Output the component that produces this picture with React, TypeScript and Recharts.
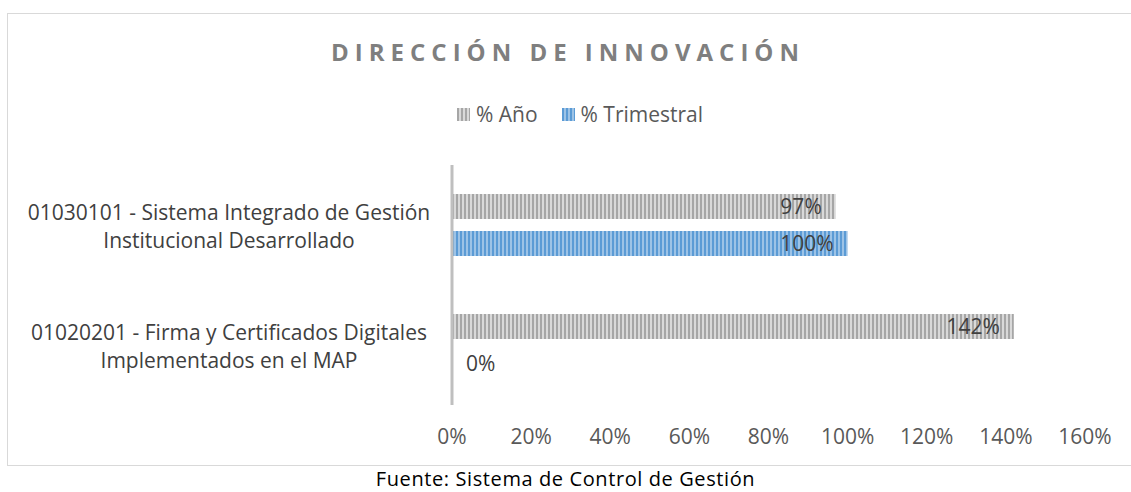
import React from 'react';
import { BarChart, Bar, XAxis, YAxis, LabelList } from 'recharts';

const categories = [
  '01030101 - Sistema Integrado de Gestión|Institucional Desarrollado',
  '01020201 - Firma y Certificados Digitales|Implementados en el MAP',
];
const anio = [97, 142];
const trimestral = [100, 0];
const xTicks = [0, 20, 40, 60, 80, 100, 120, 140, 160];

const data = categories.map((cat, i) => ({ cat, anio: anio[i], trimestral: trimestral[i] }));

const FONT = '"Open Sans", "Noto Sans", sans-serif';

const CategoryTick = (props: any) => {
  const { x, y, payload } = props;
  const lines = String(payload.value).split('|');
  return (
    <text x={x} y={y} textAnchor="middle" fill="#404040" fontSize={21} fontFamily={FONT}>
      {lines.map((l, i) => (
        <tspan key={i} x={x - 215} dy={i === 0 ? -5 : 28} textAnchor="middle">
          {l}
        </tspan>
      ))}
    </text>
  );
};

const ValueLabel = (props: any) => {
  const { x, y, width, height, value } = props;
  if (!value) return null;
  return (
    <text x={x + width - 14} y={y + height / 2 + 7.5} textAnchor="end" fill="#404040" fontSize={21} fontFamily={FONT}>
      {value}%
    </text>
  );
};

// bars with zero length still need their "0%" label next to the axis
const BarShape = (key: string) => (props: any) => {
  const { x, y, width, height, fill, payload } = props;
  const v = payload[key];
  return (
    <g>
      {width > 0 && <rect x={x} y={y} width={width} height={height} fill={fill} />}
      {v === 0 && (
        <text x={x + 14} y={y + height / 2 + 7.5} fill="#404040" fontSize={21} fontFamily={FONT}>
          0%
        </text>
      )}
    </g>
  );
};

export default function App() {
  return (
    <div style={{ position: 'absolute', left: 0, top: 0, width: 1131, height: 492, background: '#fff' }}>
      <div
        style={{
          position: 'absolute',
          left: 7,
          top: 13,
          width: 1124,
          height: 453,
          border: '1px solid #d9d9d9',
          borderRight: 'none',
          boxSizing: 'border-box',
        }}
      />
      <div
        style={{
          position: 'absolute',
          left: 8,
          top: 35,
          width: 1114,
          paddingLeft: 6,
          boxSizing: 'border-box',
          textAlign: 'center',
          fontFamily: FONT,
          fontWeight: 700,
          fontSize: 24,
          letterSpacing: 6,
          color: '#7f7f7f',
        }}
      >
        DIRECCIÓN DE INNOVACIÓN
      </div>
      <div
        style={{
          position: 'absolute',
          left: 0,
          top: 100,
          width: 1131,
          paddingLeft: 29,
          boxSizing: 'border-box',
          display: 'flex',
          justifyContent: 'center',
          gap: 24,
          fontFamily: FONT,
          fontSize: 21,
          color: '#595959',
        }}
      >
        <span style={{ display: 'flex', alignItems: 'center', gap: 6 }}>
          <svg width={13} height={13}><rect width={13} height={13} fill="url(#patGrey)" /></svg>% Año
        </span>
        <span style={{ display: 'flex', alignItems: 'center', gap: 6 }}>
          <svg width={13} height={13}><rect width={13} height={13} fill="url(#patBlue)" /></svg>% Trimestral
        </span>
      </div>
      <div style={{ position: 'absolute', left: 8, top: 14 }}>
        <BarChart
          width={1123}
          height={452}
          data={data}
          layout="vertical"
          margin={{ top: 151, right: 46, bottom: 21, left: 0 }}
          barSize={25}
          barGap={12}
        >
          <defs>
            <pattern id="patGrey" width={4} height={4} patternUnits="userSpaceOnUse">
              <rect width={4} height={4} fill="#d9d9d9" />
              <rect width={2} height={4} fill="#a6a6a6" />
            </pattern>
            <pattern id="patBlue" width={4} height={4} patternUnits="userSpaceOnUse">
              <rect width={4} height={4} fill="#9dc3e6" />
              <rect width={2} height={4} fill="#5b9bd5" />
            </pattern>
          </defs>
          <XAxis
            type="number"
            domain={[0, 160]}
            ticks={xTicks}
            tickFormatter={(v) => `${v}%`}
            axisLine={false}
            tickLine={false}
            tick={{ fill: '#595959', fontSize: 21, fontFamily: FONT }}
            tickMargin={18}
            height={40}
          />
          <YAxis
            type="category"
            dataKey="cat"
            width={444}
            axisLine={{ stroke: '#bfbfbf', strokeWidth: 3 }}
            tickLine={false}
            tick={<CategoryTick />}
          />
          <Bar dataKey="anio" name="% Año" fill="url(#patGrey)" shape={BarShape('anio')} isAnimationActive={false}>
            <LabelList dataKey="anio" content={<ValueLabel />} />
          </Bar>
          <Bar dataKey="trimestral" name="% Trimestral" fill="url(#patBlue)" shape={BarShape('trimestral')} isAnimationActive={false}>
            <LabelList dataKey="trimestral" content={<ValueLabel />} />
          </Bar>
        </BarChart>
      </div>
      <div
        style={{
          position: 'absolute',
          left: 0,
          top: 466,
          width: 1131,
          height: 25,
          textAlign: 'center',
          fontFamily: FONT,
          fontSize: 20,
          letterSpacing: 0.6,
          lineHeight: '25px',
          color: '#000',
        }}
      >
        Fuente: Sistema de Control de Gestión
      </div>
    </div>
  );
}
